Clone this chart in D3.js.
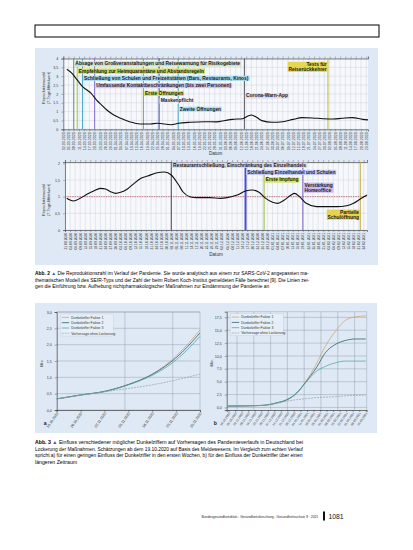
<!DOCTYPE html>
<html>
<head>
<meta charset="utf-8">
<script src="https://cdn.jsdelivr.net/npm/d3@7"></script>
<style>
body { margin: 0; background: #fff; }
svg { display: block; font-family: "Liberation Sans", Arial, sans-serif; }
</style>
</head>
<body>
<svg id="page" width="413" height="550"></svg>
<script>
// ---------- data: Abb. 2 oben (Maerz - August 2020) ----------
var rTopDates = ['2020-03-04','2020-03-07','2020-03-10','2020-03-13','2020-03-15','2020-03-18','2020-03-21',
  '2020-03-24','2020-03-27','2020-03-31','2020-04-04','2020-04-09','2020-04-15','2020-04-21','2020-04-25',
  '2020-05-03','2020-05-07','2020-05-14','2020-05-22','2020-05-29','2020-06-03','2020-06-07','2020-06-13',
  '2020-06-16','2020-06-18','2020-06-21','2020-06-24','2020-06-30','2020-07-06','2020-07-12','2020-07-17',
  '2020-07-23','2020-07-29','2020-08-04','2020-08-09','2020-08-15','2020-08-21','2020-08-24'];
var rTopValues = [3.39,3.16,2.79,2.41,2.26,2.03,1.66,1.37,1.09,0.81,0.62,0.43,0.30,0.30,0.34,0.26,0.34,0.40,
  0.43,0.42,0.50,0.56,0.60,0.75,0.81,0.68,0.49,0.40,0.43,0.56,0.66,0.64,0.60,0.58,0.62,0.66,0.56,0.53];
var eventTopDates = ['2020-03-08','2020-03-10','2020-03-13','2020-03-20','2020-04-17','2020-04-26','2020-05-07','2020-06-14','2020-08-01'];
var eventTopLabels = [
  ['Absage von Großveranstaltungen und Reisewarnung für Risikogebiete'],
  ['Empfehlung zur Heimquarantäne und Abstandsregeln'],
  ['Schließung von Schulen und Freizeitstätten (Bars, Restaurants, Kinos)'],
  ['Umfassende Kontaktbeschränkungen (bis zwei Personen)'],
  ['Erste Öffnungen'],
  ['Maskenpflicht'],
  ['Zweite Öffnungen'],
  ['Corona-Warn-App'],
  ['Tests für', 'Reiserückkehrer']
];

// ---------- data: Abb. 2 unten (September 2020 - Februar 2021) ----------
var rBotDates = ['2020-09-01','2020-09-05','2020-09-09','2020-09-13','2020-09-17','2020-09-21','2020-09-24',
  '2020-09-27','2020-09-30','2020-10-03','2020-10-07','2020-10-11','2020-10-15','2020-10-19','2020-10-24',
  '2020-10-29','2020-11-02','2020-11-06','2020-11-09','2020-11-13','2020-11-17','2020-11-25','2020-12-01',
  '2020-12-05','2020-12-11','2020-12-16','2020-12-20','2020-12-24','2020-12-28','2021-01-01','2021-01-04',
  '2021-01-08','2021-01-12','2021-01-14','2021-01-17','2021-01-21','2021-01-27','2021-02-02','2021-02-08',
  '2021-02-14','2021-02-18','2021-02-22','2021-02-26'];
var rBotValues = [0.95,0.87,0.95,1.07,1.17,1.25,1.23,1.15,1.10,1.13,1.23,1.40,1.55,1.62,1.71,1.74,1.65,1.38,
  1.14,1.00,0.97,0.97,0.95,0.97,1.05,1.17,1.20,1.13,0.95,0.83,0.80,0.90,1.05,1.10,1.00,0.80,0.70,0.70,0.70,
  0.73,0.80,0.93,1.05];
var eventBotDates = ['2020-11-02','2020-12-16','2020-12-27','2021-01-19','2021-02-22'];
var eventBotLabels = [
  ['Restaurantschließung, Einschränkung des Einzelhandels'],
  ['Schließung Einzelhandel und Schulen'],
  ['Erste Impfung'],
  ['Verstärkung', 'Homeoffice'],
  ['Partielle', 'Schulöffnung']
];

// ---------- data: Abb. 3 ----------
var seriesNames = ['Dunkelziffer Faktor 1', 'Dunkelziffer Faktor 2', 'Dunkelziffer Faktor 3', 'Vorhersage ohne Lockerung'];
var scenADates = ['2020-10-19','2020-10-26','2020-11-02','2020-11-09','2020-11-16','2020-11-23','2020-11-30'];
var scenAF1 = [0.34, 0.46, 0.57, 0.78, 1.10, 1.65, 2.45];
var scenAF2 = [0.34, 0.46, 0.57, 0.78, 1.09, 1.60, 2.36];
var scenAF3 = [0.34, 0.46, 0.56, 0.77, 1.06, 1.53, 2.25];
var scenABase = [0.34, 0.45, 0.56, 0.66, 0.77, 0.92, 1.10];
var scenBDates = ['2020-10-18','2020-11-04','2020-11-25','2020-12-10','2020-12-20','2020-12-31','2021-01-10',
  '2021-01-21','2021-01-31','2021-02-11','2021-02-21','2021-03-04','2021-03-15'];
var scenBF1 = [0.26, 0.30, 0.40, 0.90, 1.45, 2.8, 5.1, 8.4, 12.0, 14.9, 16.9, 17.6, 17.8];
var scenBF2 = [0.26, 0.30, 0.40, 0.90, 1.45, 2.8, 5.0, 7.7, 10.7, 12.3, 13.0, 13.3, 13.3];
var scenBF3 = [0.26, 0.30, 0.40, 0.90, 1.45, 2.8, 4.9, 7.0, 8.0, 8.7, 9.0, 9.0, 9.0];
var scenBBase = [0.26, 0.30, 0.40, 0.80, 1.20, 1.50, 1.70, 1.90, 2.00, 2.10, 2.25, 2.35, 2.40];

// ---------- styles ----------
var boxBlue = '#dfe9f5';
var eventTopLine = ['#5f9a6c','#a9c43a','#4aa7c2','#8a6fd2','#8ea43e','#36409c','#43a9c3','#555561','#c9b532'];
var eventTopFill = ['#cfe0c9','#cadd55','#a9dbf0','#d2c3f4','#d3e263','#eeeefb','#b2e1f4','#e3d9e4','#e6d653'];
var eventBotLine = ['#454552','#4b4bd3','#9bb834','#7a5cc4','#c2a834'];
var eventBotFill = ['#ddd6e8','#c3caf7','#d2e454','#cabaf1','#e6d152'];
var eventBotWidth = [1, 2, 1, 1, 1];
var seriesColors = ['#d4a36c', '#1f5a66', '#4aa6b0', '#9aa1aa'];

var svg = d3.select('#page');
var parse = d3.timeParse('%Y-%m-%d');
var de = d3.formatLocale({decimal: ',', thousands: '.', grouping: [3], currency: ['', ' €']});

// scale a text's font so its natural width matches the given width
function fitText(t, width, shrinkOnly) {
  var fs = +t.attr('font-size');
  var w = t.node().getComputedTextLength();
  if (!shrinkOnly || w > width) t.attr('font-size', fs * width / w);
  return +t.attr('font-size');
}

// page header box and figure backgrounds
svg.append('rect').attr('x', 35).attr('y', 25).attr('width', 344).attr('height', 12)
  .attr('fill', 'none').attr('stroke', '#000').attr('stroke-width', 1);
svg.append('rect').attr('x', 35).attr('y', 48).attr('width', 343).attr('height', 217).attr('fill', boxBlue);
svg.append('rect').attr('x', 35).attr('y', 303).attr('width', 342).attr('height', 130).attr('fill', boxBlue);

//================= Abb. 2: Reproduktionszahl ====================//

function drawTimeline(o) {
  var g = svg.append('g');
  var x = d3.scaleTime().domain(o.domain).range([o.left, o.right]);
  var y = d3.scaleLinear().domain(o.yDomain).range([o.bottom, o.top]);
  var tickDates = d3.timeDay.range(o.domain[0], d3.timeDay.offset(o.domain[1], 1), 3);
  var yTicks = d3.range(0, o.yDomain[1] + 1e-6, 0.5);

  g.append('rect').attr('x', o.left).attr('y', o.top)
    .attr('width', o.right - o.left).attr('height', o.bottom - o.top).attr('fill', '#f6f8fc');

  g.selectAll('.vgrid').data(tickDates).enter().append('line')
    .attr('x1', d => x(d)).attr('x2', d => x(d)).attr('y1', o.top).attr('y2', o.bottom)
    .attr('stroke', '#c6ccd6').attr('stroke-width', 0.4);
  g.selectAll('.hgrid').data(yTicks).enter().append('line')
    .attr('x1', o.left).attr('x2', o.right).attr('y1', d => y(d)).attr('y2', d => y(d))
    .attr('stroke', '#c6ccd6').attr('stroke-width', 0.4);

  // axes
  var fmtDate = d3.timeFormat('%d.%m.%Y');
  var xAxis = g.append('g').attr('transform', 'translate(0,' + o.bottom + ')')
    .call(d3.axisBottom(x).tickValues(tickDates).tickSize(2).tickFormat(fmtDate));
  xAxis.selectAll('text')
    .attr('font-size', o.xFont).attr('fill', '#333')
    .attr('transform', 'rotate(-90)').attr('text-anchor', 'end')
    .attr('x', -3).attr('y', 0).attr('dy', '0.32em');
  g.append('g').attr('transform', 'translate(0,' + o.top + ')')
    .call(d3.axisTop(x).tickValues(tickDates).tickSize(2).tickFormat(''));
  var yAxis = g.append('g').attr('transform', 'translate(' + o.left + ',0)')
    .call(d3.axisLeft(y).tickValues(yTicks).tickSize(2).tickFormat(de.format('.1~f')));
  yAxis.selectAll('text').attr('font-size', 3.6).attr('fill', '#333');
  g.selectAll('.domain').attr('stroke', '#333').attr('stroke-width', 0.6);
  g.selectAll('.tick line').attr('stroke', '#555').attr('stroke-width', 0.4);

  g.append('text').attr('x', (o.left + o.right) / 2).attr('y', o.bottom + 26)
    .attr('text-anchor', 'middle').attr('font-size', 4.6).attr('fill', '#333').text('Datum');
  var yt = g.append('text').attr('transform', 'translate(45,' + o.yTitleY + ') rotate(-90)')
    .attr('text-anchor', 'middle').attr('font-size', 3.9).attr('fill', '#333');
  yt.append('tspan').attr('x', 0).attr('dy', 0).text('Reproduktionszahl');
  yt.append('tspan').attr('x', 0).attr('dy', 4.6).text('(7-Tage-Mittelwert)');

  if (o.refLine) {
    g.append('line').attr('x1', o.left).attr('x2', o.right)
      .attr('y1', y(o.refLine)).attr('y2', y(o.refLine))
      .attr('stroke', '#b5484d').attr('stroke-width', 0.7).attr('stroke-dasharray', '1.4,1');
  }

  // event lines
  var evDates = o.eventDates.map(parse);
  g.selectAll('.evline').data(evDates).enter().append('line')
    .attr('x1', d => x(d)).attr('x2', d => x(d)).attr('y1', o.top).attr('y2', o.bottom)
    .attr('stroke', (d, i) => o.lineColors[i])
    .attr('stroke-width', (d, i) => o.lineWidths ? o.lineWidths[i] : 1);

  // R curve
  var pts = o.dates.map((d, i) => [parse(d), o.values[i]]);
  g.append('path').datum(pts)
    .attr('fill', 'none').attr('stroke', '#111').attr('stroke-width', 1.1)
    .attr('d', d3.line().x(d => x(d[0])).y(d => y(d[1])).curve(d3.curveMonotoneX));

  // event labels
  evDates.forEach(function (d, i) {
    var lines = o.eventLabels[i];
    var end = o.alignEnd[i];
    var lx = end ? x(d) - 1.2 : x(d) + 1.6;
    var lg = g.append('g');
    var t = lg.append('text').attr('font-size', 4.9).attr('font-weight', 'bold').attr('fill', '#1a1a1a')
      .attr('text-anchor', end ? 'end' : 'start');
    lines.forEach(function (s, k) {
      t.append('tspan').attr('x', lx).attr('y', o.labelTops[i] + 4 + k * 4.9).text(s);
    });
    var bb = t.node().getBBox();
    var x0 = end ? bb.x - 0.8 : x(d) + 0.5;
    var x1 = end ? x(d) - 0.5 : bb.x + bb.width + 0.8;
    lg.insert('rect', 'text')
      .attr('x', x0).attr('y', o.labelTops[i])
      .attr('width', x1 - x0)
      .attr('height', 5.2 + (lines.length - 1) * 4.9)
      .attr('fill', o.fillColors[i]);
  });
}

drawTimeline({
  domain: [parse('2020-03-02'), parse('2020-08-24')],
  yDomain: [0, 4], left: 63.3, right: 368, top: 58.5, bottom: 129.3, xFont: 3.6, yTitleY: 88,
  dates: rTopDates, values: rTopValues,
  eventDates: eventTopDates, eventLabels: eventTopLabels,
  lineColors: eventTopLine, fillColors: eventTopFill,
  labelTops: [61.3, 68.5, 75.7, 83, 90.8, 98.4, 106.6, 93.4, 61.8],
  alignEnd: [false, false, false, false, false, false, false, false, true]
});

drawTimeline({
  domain: [parse('2020-08-31'), parse('2021-02-26')],
  yDomain: [0, 2.04], left: 65, right: 367, top: 162, bottom: 230, xFont: 3.3, yTitleY: 200,
  refLine: 1,
  dates: rBotDates, values: rBotValues,
  eventDates: eventBotDates, eventLabels: eventBotLabels,
  lineColors: eventBotLine, fillColors: eventBotFill, lineWidths: eventBotWidth,
  labelTops: [162.6, 169.8, 177.4, 182.6, 209.6],
  alignEnd: [false, false, false, false, true]
});

//================= Abb. 3: Szenarien ====================//

function drawScenario(o) {
  var g = svg.append('g');
  var x = d3.scaleTime().domain(o.domain).range([o.left, o.right]);
  var y = d3.scaleLinear().domain(o.yDomain).range([o.bottom, o.top]);
  var grid = '#8d9aab';

  g.selectAll('.hgrid').data(o.yTicks).enter().append('line')
    .attr('x1', o.left).attr('x2', o.right).attr('y1', d => y(d)).attr('y2', d => y(d))
    .attr('stroke', grid).attr('stroke-width', 0.45);
  g.selectAll('.vgrid').data(o.gridDates).enter().append('line')
    .attr('x1', d => x(d)).attr('x2', d => x(d)).attr('y1', o.top).attr('y2', o.bottom)
    .attr('stroke', grid).attr('stroke-width', 0.45);
  g.append('line').attr('x1', o.right).attr('x2', o.right).attr('y1', o.top).attr('y2', o.bottom)
    .attr('stroke', grid).attr('stroke-width', 0.45);
  g.append('line').attr('x1', o.left).attr('x2', o.right).attr('y1', o.top).attr('y2', o.top)
    .attr('stroke', grid).attr('stroke-width', 0.45);

  var xAxis = g.append('g').attr('transform', 'translate(0,' + o.bottom + ')')
    .call(d3.axisBottom(x).tickValues(o.tickDates).tickSize(2).tickFormat(d3.timeFormat('%d.%m.%Y')));
  xAxis.selectAll('text').attr('font-size', o.xFont).attr('fill', '#333')
    .attr('text-anchor', 'end').attr('transform', 'rotate(-55)')
    .attr('x', -2).attr('y', 2).attr('dy', '0.32em');
  var yAxis = g.append('g').attr('transform', 'translate(' + o.left + ',0)')
    .call(d3.axisLeft(y).tickValues(o.yTicks).tickSize(2).tickFormat(de.format('.1f')));
  yAxis.selectAll('text').attr('font-size', 3.6).attr('fill', '#333');
  g.selectAll('.domain').attr('stroke', '#222').attr('stroke-width', 0.6);
  g.selectAll('.tick line').attr('stroke', '#333').attr('stroke-width', 0.4);

  g.append('text').attr('transform', 'translate(' + (o.left - 14) + ',' + ((o.top + o.bottom) / 2 + 2) + ') rotate(-90)')
    .attr('text-anchor', 'middle').attr('font-size', 3.9).attr('fill', '#333').text('Mio.');
  g.append('text').attr('x', o.left - 13).attr('y', o.bottom + 15)
    .attr('font-size', 5.2).attr('font-weight', 'bold').attr('fill', '#222').text(o.tag);

  var dates = o.dates.map(parse);
  var line = d3.line().x(d => x(d[0])).y(d => y(d[1])).curve(d3.curveMonotoneX);
  o.series.forEach(function (vals, k) {
    g.append('path').datum(vals.map((v, i) => [dates[i], v]))
      .attr('fill', 'none').attr('stroke', seriesColors[k]).attr('stroke-width', 0.75)
      .attr('stroke-dasharray', k === 3 ? '2,1' : null)
      .attr('d', line);
  });

  // legend
  var lg = g.append('g').attr('transform', 'translate(' + (o.left + 3.5) + ',' + (o.top + 2) + ')');
  lg.append('rect').attr('width', 53).attr('height', 22).attr('fill', '#e6eef8')
    .attr('stroke', '#b9c4d2').attr('stroke-width', 0.3);
  seriesNames.forEach(function (name, k) {
    var ly = 3.4 + k * 5.3;
    lg.append('line').attr('x1', 1.5).attr('x2', 9).attr('y1', ly).attr('y2', ly)
      .attr('stroke', seriesColors[k]).attr('stroke-width', 0.75)
      .attr('stroke-dasharray', k === 3 ? '2,1' : null);
    lg.append('text').attr('x', 11).attr('y', ly + 1.2).attr('font-size', 3.5).attr('fill', '#333').text(name);
  });
}

drawScenario({
  tag: 'a', domain: [parse('2020-10-19'), parse('2020-11-30')], yDomain: [0, 3],
  left: 56.7, right: 200, top: 312, bottom: 410, xFont: 3.6,
  yTicks: d3.range(0, 3.01, 0.5),
  tickDates: scenADates.map(parse),
  gridDates: d3.timeWeek.range(parse('2020-10-26'), parse('2020-11-30')).filter((d, i) => i % 2 === 1),
  dates: scenADates, series: [scenAF1, scenAF2, scenAF3, scenABase]
});

drawScenario({
  tag: 'b', domain: [parse('2020-10-17'), parse('2021-03-16')], yDomain: [-0.5, 18.6],
  left: 226.7, right: 366.7, top: 311.7, bottom: 410, xFont: 3.1,
  yTicks: d3.range(0, 17.51, 2.5),
  tickDates: d3.timeDay.range(parse('2020-10-19'), parse('2021-03-16'), 7),
  gridDates: d3.timeDay.range(parse('2020-10-28'), parse('2021-03-10'), 18),
  dates: scenBDates, series: [scenBF1, scenBF2, scenBF3, scenBBase]
});

//================= captions & footer ====================//

// full lines are fitted to the column width, the short last line keeps the first line's size
function caption(lines, y0, width) {
  var fs = 4.6;
  lines.forEach(function (s, i) {
    var t = svg.append('text').attr('x', 35).attr('y', y0 + i * 6.6)
      .attr('font-size', fs).attr('fill', '#000');
    if (i === 0) {
      t.append('tspan').attr('font-weight', 'bold').text(s.slice(0, 6));
      t.append('tspan').attr('fill', '#2f63b5').text(' \u25B2 ');
      t.append('tspan').text(s.slice(7));
    } else {
      t.text(s);
    }
    if (i === 0) fs = fitText(t, width);
    else if (i < lines.length - 1) fitText(t, width);
    else fitText(t, width, true);
  });
}

caption([
  'Abb. 2 Die Reproduktionszahl im Verlauf der Pandemie. Sie wurde analytisch aus einem zur SARS-CoV-2 angepassten ma-',
  'thematischen Modell des SEIR-Typs und der Zahl der beim Robert Koch-Institut gemeldeten Fälle berechnet [9]. Die Linien zei-',
  'gen die Einführung bzw. Aufhebung nichtpharmakologischer Maßnahmen zur Eindämmung der Pandemie an'
], 275, 274);

caption([
  'Abb. 3 Einfluss verschiedener möglicher Dunkelziffern auf Vorhersagen des Pandemieverlaufs in Deutschland bei',
  'Lockerung der Maßnahmen. Schätzungen ab dem 19.10.2020 auf Basis des Meldewesens. Im Vergleich zum echten Verlauf',
  'spricht a) für einen geringen Einfluss der Dunkelziffer in den ersten Wochen, b) für den Einfluss der Dunkelziffer über einen',
  'längeren Zeitraum'
], 444, 268);

var footer = svg.append('text').attr('x', 201.5).attr('y', 518).attr('font-size', 4.4).attr('fill', '#222')
  .text('Bundesgesundheitsblatt - Gesundheitsforschung - Gesundheitsschutz 9 · 2021');
fitText(footer, 117, true);
svg.append('rect').attr('x', 323).attr('y', 511.5).attr('width', 2).attr('height', 9).attr('fill', '#111');
svg.append('text').attr('x', 328.5).attr('y', 519).attr('font-size', 6.8).attr('fill', '#111').text('1081');
</script>
</body>
</html>
